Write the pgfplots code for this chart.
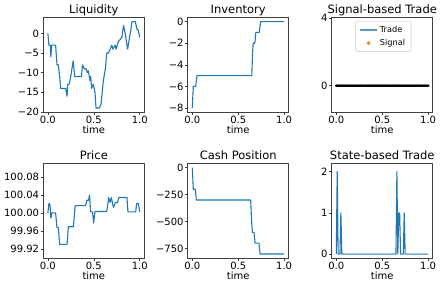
\documentclass[border=0pt]{standalone}
\usepackage{pgfplots}
\pgfplotsset{compat=1.18}
\usepackage{fontspec}
\setmainfont{DejaVu Sans}
\definecolor{c0}{HTML}{1F77B4}
\definecolor{tradelight}{HTML}{5A9BCB}
\definecolor{sigdot}{HTML}{F0852A}

\pgfplotsset{
 mpl/.style={
  scale only axis, width=101pt, height=95pt,
  xmin=-0.05, xmax=1.05,
  axis line style={black!75, line width=0.5pt},
  tick align=outside, tick pos=left,
  major tick length=2.8pt,
  every tick/.style={black!75, line width=0.5pt},
  xtick={0,0.5,1}, xticklabels={0.0,0.5,1.0},
  ticklabel style={font=\fontsize{10}{12}\selectfont},
  xticklabel style={inner sep=1pt},
  yticklabel style={inner sep=1.2pt},
  title style={font=\fontsize{11.5}{13}\selectfont, at={(0.5,1)}, anchor=base, yshift=-2pt},
  xlabel={time},
  xlabel style={font=\fontsize{10}{12}\selectfont, at={(axis description cs:0.5,0)}, anchor=base, yshift=-21.5pt},
  every axis plot/.append style={no marks, line width=1.1pt, line join=round},
  scaled y ticks=false,
 }
}

\begin{document}
\begin{tikzpicture}
\useasboundingbox (0,0) rectangle (443pt,289pt);

% Liquidity
\begin{axis}[mpl, at={(43.3pt,271.7pt)}, anchor=north west, title={Liquidity},
  ymin=-20.1, ymax=4.1, ytick={-20,-15,-10,-5,0}, yticklabels={−20,−15,−10,−5,0}]
\addplot[color=c0] coordinates {
(0.000,0) (0.011,-3) (0.026,-3) (0.033,-6) (0.040,-3) (0.084,-3) (0.099,-8)
(0.114,-8) (0.128,-11) (0.139,-14) (0.194,-14) (0.209,-16) (0.216,-13) (0.231,-13)
(0.249,-11) (0.275,-7) (0.293,-11) (0.366,-11) (0.377,-8) (0.396,-9) (0.414,-9)
(0.429,-10) (0.440,-9.5) (0.458,-12) (0.466,-11) (0.476,-14) (0.495,-13) (0.513,-15)
(0.524,-19) (0.560,-19) (0.579,-18) (0.604,-12) (0.626,-9) (0.641,-5) (0.659,-5)
(0.678,-4) (0.696,-3) (0.707,-4) (0.733,-3) (0.743,-4) (0.769,-2) (0.788,-1.5)
(0.806,-1) (0.824,2) (0.842,0) (0.868,-4) (0.897,0) (0.916,3) (0.952,3)
(0.971,1) (0.982,1) (1.000,-1)};
\end{axis}

% Inventory
\begin{axis}[mpl, at={(187.7pt,271.7pt)}, anchor=north west, title={Inventory},
  ymin=-8.4, ymax=0.4, ytick={-8,-6,-4,-2,0}, yticklabels={−8,−6,−4,−2,0}]
\addplot[color=c0] coordinates {
(0,-8) (0.011,-6) (0.037,-6) (0.051,-5) (0.648,-5) (0.656,-3) (0.663,-2)
(0.681,-2) (0.692,-1) (0.729,-1) (0.744,0) (1,0)};
\end{axis}

% Signal-based Trade
\begin{axis}[mpl, at={(331.7pt,271.7pt)}, anchor=north west, title={Signal-based Trade},
  ymin=-1.58, ymax=4.05, ytick={0,4}, yticklabels={0,4},
  legend style={at={(0.51,0.958)}, anchor=north, draw=black!22, rounded corners=2pt,
    font=\fontsize{8.2}{10}\selectfont, inner xsep=4pt, inner ysep=2.5pt, row sep=1.5pt},
  legend cell align=left]
\addplot[color=tradelight, line width=1.2pt,
  legend image code/.code={\draw[draw=tradelight, line width=1.5pt] (0pt,0pt) -- (17pt,0pt);}]
  coordinates {(0,0) (1,0)};
\addlegendentry{Trade}
\addplot[only marks, mark=*, mark size=0.75pt, mark options={fill=sigdot, draw=none},
  legend image code/.code={\fill[sigdot] (8.5pt,0pt) circle (1.3pt);}]
  coordinates {
  (0.00,0) (0.01,0) (0.02,0) (0.03,0) (0.04,0) (0.05,0) (0.06,0) (0.07,0) (0.08,0) (0.09,0)
  (0.10,0) (0.11,0) (0.12,0) (0.13,0) (0.14,0) (0.15,0) (0.16,0) (0.17,0) (0.18,0) (0.19,0)
  (0.20,0) (0.21,0) (0.22,0) (0.23,0) (0.24,0) (0.25,0) (0.26,0) (0.27,0) (0.28,0) (0.29,0)
  (0.30,0) (0.31,0) (0.32,0) (0.33,0) (0.34,0) (0.35,0) (0.36,0) (0.37,0) (0.38,0) (0.39,0)
  (0.40,0) (0.41,0) (0.42,0) (0.43,0) (0.44,0) (0.45,0) (0.46,0) (0.47,0) (0.48,0) (0.49,0)
  (0.50,0) (0.51,0) (0.52,0) (0.53,0) (0.54,0) (0.55,0) (0.56,0) (0.57,0) (0.58,0) (0.59,0)
  (0.60,0) (0.61,0) (0.62,0) (0.63,0) (0.64,0) (0.65,0) (0.66,0) (0.67,0) (0.68,0) (0.69,0)
  (0.70,0) (0.71,0) (0.72,0) (0.73,0) (0.74,0) (0.75,0) (0.76,0) (0.77,0) (0.78,0) (0.79,0)
  (0.80,0) (0.81,0) (0.82,0) (0.83,0) (0.84,0) (0.85,0) (0.86,0) (0.87,0) (0.88,0) (0.89,0)
  (0.90,0) (0.91,0) (0.92,0) (0.93,0) (0.94,0) (0.95,0) (0.96,0) (0.97,0) (0.98,0) (0.99,0)
  (1.00,0)};
\addlegendentry{Signal}
\end{axis}

% Price
\begin{axis}[mpl, at={(43.3pt,125.7pt)}, anchor=north west, title={Price},
  ymin=99.899, ymax=100.11, ytick={99.92,99.96,100.00,100.04,100.08},
  yticklabels={99.92,99.96,100.00,100.04,100.08}]
\addplot[color=c0] coordinates {
(0,100.0) (0.011,100.021) (0.022,100.019) (0.033,99.988) (0.044,100.0) (0.084,100.0)
(0.099,99.967) (0.114,99.967) (0.128,99.93) (0.209,99.93) (0.223,99.969) (0.278,99.969)
(0.297,100.016) (0.410,100.016) (0.425,100.028) (0.443,100.028) (0.454,100.04)
(0.465,100.002) (0.487,100.002) (0.498,99.977) (0.513,100.003) (0.641,100.003)
(0.663,100.034) (0.677,100.023) (0.692,100.034) (0.714,100.012) (0.736,100.023)
(0.758,100.023) (0.773,100.034) (0.861,100.034) (0.872,100.002) (0.956,100.002)
(0.967,100.021) (0.985,100.021) (1.0,100.002)};
\end{axis}

% Cash Position
\begin{axis}[mpl, at={(187.7pt,125.7pt)}, anchor=north west, title={Cash Position},
  ymin=-840, ymax=40, ytick={-750,-500,-250,0}, yticklabels={−750,−500,−250,0}]
\addplot[color=c0] coordinates {
(0,0) (0.011,-200) (0.033,-200) (0.044,-300) (0.636,-300) (0.646,-500) (0.655,-600)
(0.673,-600) (0.684,-700) (0.727,-700) (0.738,-800) (1,-800)};
\end{axis}

% State-based Trade
\begin{axis}[mpl, at={(331.7pt,125.7pt)}, anchor=north west, title={State-based Trade},
  ymin=-0.1, ymax=2.2, ytick={0,1,2}, yticklabels={0,1,2}]
\addplot[color=c0] coordinates {
(0,0) (0.01,2) (0.02,0) (0.04,0) (0.05,1) (0.06,0) (0.65,0) (0.66,2) (0.67,0)
(0.68,1) (0.69,1) (0.70,0) (0.73,0) (0.74,1) (0.75,0) (1.0,0)};
\end{axis}
\end{tikzpicture}
\end{document}
